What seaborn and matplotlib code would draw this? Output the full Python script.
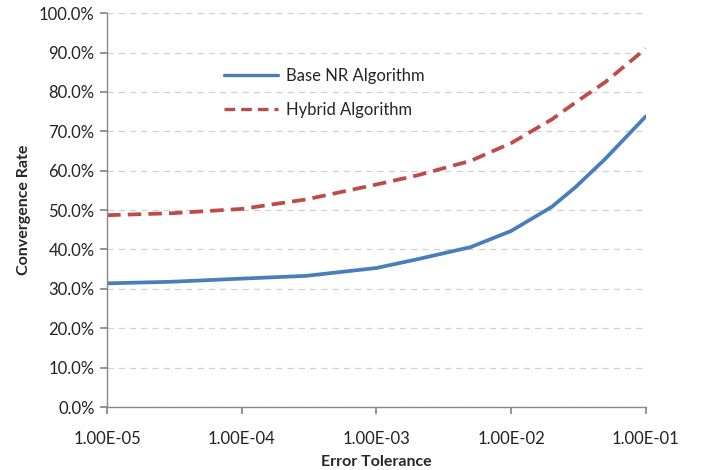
import matplotlib
matplotlib.use("Agg")
import matplotlib.pyplot as plt
import matplotlib.ticker as mticker
import pandas as pd
import seaborn as sns

# values
tolerance = [1e-5, 3e-5, 1e-4, 3e-4, 1e-3, 2e-3, 5e-3, 1e-2, 2e-2, 3e-2, 5e-2, 1e-1]
base_nr = [31.4, 31.8, 32.6, 33.3, 35.3, 37.5, 40.6, 44.7, 50.8, 55.8, 63.0, 73.8]
hybrid = [48.7, 49.2, 50.3, 52.7, 56.5, 58.8, 62.5, 67.0, 73.0, 77.3, 82.5, 91.0]
series_names = ["Base NR Algorithm", "Hybrid Algorithm"]
x_ticks = [1e-5, 1e-4, 1e-3, 1e-2, 1e-1]

df = pd.concat([
    pd.DataFrame({"tol": tolerance, "rate": base_nr, "alg": series_names[0]}),
    pd.DataFrame({"tol": tolerance, "rate": hybrid, "alg": series_names[1]}),
], ignore_index=True)

sns.set_theme(style="white")
plt.rcParams["font.family"] = ["Lato", "DejaVu Sans"]

fig = plt.figure(figsize=(7.05, 4.7), dpi=100)
ax = fig.add_axes([0.152, 0.134, 0.764, 0.838])

sns.lineplot(data=df, x="tol", y="rate", hue="alg", style="alg",
             palette=["#4a7ebb", "#be4b48"], dashes=[(None, None), (3.6, 1.9)],
             linewidth=2.7, ax=ax, legend=False)

ax.set_xscale("log")
ax.set_xlim(1e-5, 1e-1)
ax.set_ylim(0, 100)
ax.set_xticks(x_ticks)
ax.xaxis.set_major_formatter(mticker.FuncFormatter(lambda v, p: f"{v:.2E}"))
ax.xaxis.set_minor_locator(mticker.NullLocator())
ax.set_yticks(range(0, 101, 10))
ax.yaxis.set_major_formatter(mticker.FuncFormatter(lambda v, p: f"{v:.1f}%"))

ax.grid(axis="y", color="#d0d0d0", linestyle=(0, (5, 4)), linewidth=0.9)
ax.set_axisbelow(True)
for side in ["top", "right"]:
    ax.spines[side].set_visible(False)
for side in ["left", "bottom"]:
    ax.spines[side].set_color("#888888")
    ax.spines[side].set_linewidth(1.0)
ax.tick_params(axis="both", which="major", direction="out", length=5,
               color="#888888", labelsize=12, labelcolor="#222222", bottom=True, left=True)
ax.tick_params(axis="x", pad=12)
ax.tick_params(axis="y", pad=4)

ax.set_xlabel("Error Tolerance", fontsize=11.5, fontweight="bold", labelpad=6)
ax.set_ylabel("Convergence Rate", fontsize=11.5, fontweight="bold", labelpad=6)

handles = [plt.Line2D([], [], color="#4a7ebb", lw=2.4),
           plt.Line2D([], [], color="#be4b48", lw=2.4, dashes=(3.2, 1.8))]
ax.legend(handles, series_names, loc="upper left", bbox_to_anchor=(0.19, 0.9),
          frameon=False, fontsize=12, handlelength=3.2, handletextpad=0.5,
          labelspacing=1.1)

fig.savefig("out.png", dpi=100)
